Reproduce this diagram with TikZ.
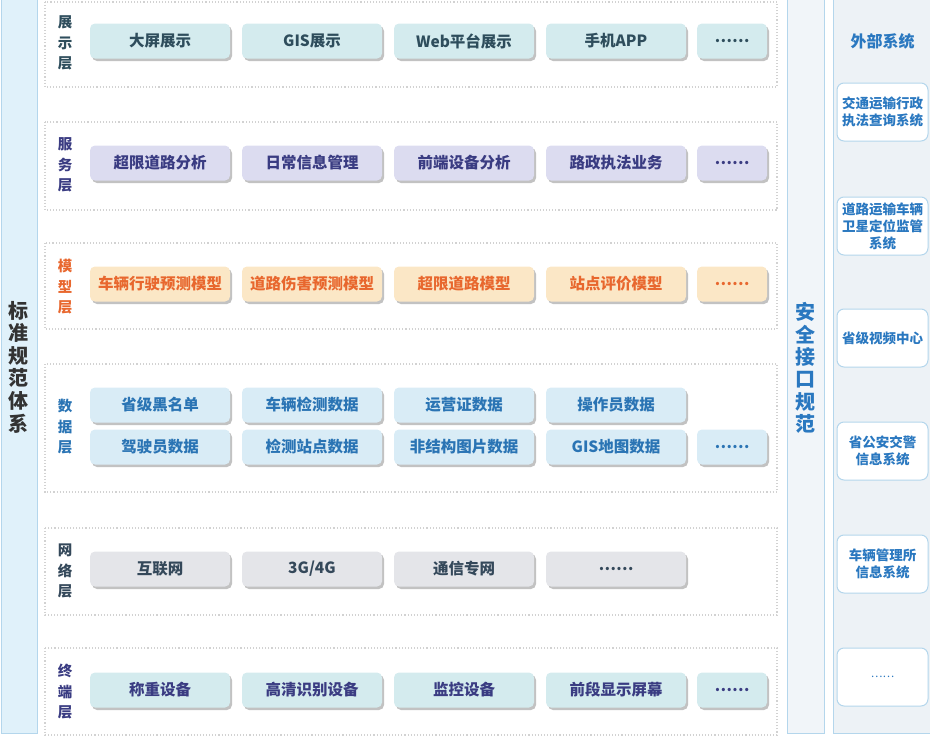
\documentclass[tikz,border=0pt]{standalone}
\usepackage{fontspec}
\setmainfont{Noto Sans CJK SC}
\usepackage{tikz}
\usetikzlibrary{shadows}
\usepackage{xcolor}
\definecolor{showfill}{HTML}{D4EBEE}
\definecolor{showtxt}{HTML}{2E4D5C}
\definecolor{servfill}{HTML}{DCDCF0}
\definecolor{servtxt}{HTML}{3A3C82}
\definecolor{modfill}{HTML}{FBE7C6}
\definecolor{modtxt}{HTML}{E8672E}
\definecolor{datfill}{HTML}{D9ECF6}
\definecolor{dattxt}{HTML}{2A74B4}
\definecolor{netfill}{HTML}{E4E5E9}
\definecolor{nettxt}{HTML}{34485A}
\definecolor{stdfill}{HTML}{E0F1FA}
\definecolor{colline}{HTML}{B4D6EC}
\definecolor{secfill}{HTML}{F1F5F9}
\definecolor{extfill}{HTML}{EDF2F6}
\definecolor{extblue}{HTML}{2A78C0}
\tikzset{
  lyr/.style={draw=gray!35, dotted, line width=1.1pt},
  itm/.style={rounded corners=5pt, minimum width=140pt, minimum height=35pt, inner sep=0pt,
    font=\bfseries\fontsize{15.5}{17}\selectfont,
    drop shadow={shadow xshift=2pt, shadow yshift=-2.5pt, fill=black!40, opacity=.6}},
  more/.style={itm, minimum width=70pt},
  vlbl/.style={align=center, inner sep=0pt, font=\bfseries\fontsize{14.5}{20.5}\selectfont},
  col/.style={draw=colline, line width=1pt},
  ext/.style={draw=colline, line width=1pt, fill=white, rounded corners=7pt, minimum width=91pt,
    minimum height=58pt, align=center, inner sep=1pt, text=extblue,
    font=\bfseries\fontsize{13.5}{17}\selectfont},
}

\begin{document}
\begin{tikzpicture}[x=1pt, y=-1pt]
  \useasboundingbox (0,0) rectangle (930,739);
  % side columns
  \draw[col, fill=stdfill] (1,-5) rectangle (37,733);
  \draw[col, fill=secfill] (787,-5) rectangle (824,733);
  \draw[col, fill=extfill] (833,-5) rectangle (940,733);
  \node[vlbl, font=\bfseries\fontsize{20}{22.6}\selectfont, text=black!80] (std) at (19,367) {标\\准\\规\\范\\体\\系};
  \node[vlbl, font=\bfseries\fontsize{20}{22.4}\selectfont, text=extblue] (sec) at (805.5,368) {安\\全\\接\\口\\规\\范};
  \node[text=extblue, font=\bfseries\fontsize{16}{18}\selectfont] (exttitle) at (882.5,41) {外部系统};

  % layers
  \draw[lyr] (45,2) rectangle (777,87);
  \draw[lyr] (45,122) rectangle (777,210);
  \draw[lyr] (45,243) rectangle (777,329);
  \draw[lyr] (45,364) rectangle (777,492);
  \draw[lyr] (45,528) rectangle (777,615);
  \draw[lyr] (45,648) rectangle (777,735);

  \node[vlbl, text=showtxt] (lshow) at (65,43) {展\\示\\层};
  \node[vlbl, text=servtxt] (lserv) at (65,165) {服\\务\\层};
  \node[vlbl, text=modtxt] (lmod) at (65,287) {模\\型\\层};
  \node[vlbl, text=dattxt] (ldat) at (65,427) {数\\据\\层};
  \node[vlbl, text=nettxt] (lnet) at (65,571) {网\\络\\层};
  \node[vlbl, text=servtxt] (lterm) at (65,692) {终\\端\\层};

  % items
  \foreach \t [count=\i] in {大屏展示,GIS展示,Web平台展示,手机APP}
    \node[itm, fill=showfill, text=showtxt] (show\i) at ({160+152*(\i-1)},41) {\t};
  \node[more, fill=showfill, text=showtxt] (show5) at (732,41) {……};
  \foreach \t [count=\i] in {超限道路分析,日常信息管理,前端设备分析,路政执法业务}
    \node[itm, fill=servfill, text=servtxt] (serv\i) at ({160+152*(\i-1)},163) {\t};
  \node[more, fill=servfill, text=servtxt] (serv5) at (732,163) {……};
  \foreach \t [count=\i] in {车辆行驶预测模型,道路伤害预测模型,超限道路模型,站点评价模型}
    \node[itm, fill=modfill, text=modtxt] (mod\i) at ({160+152*(\i-1)},284) {\t};
  \node[more, fill=modfill, text=modtxt] (mod5) at (732,284) {……};
  \foreach \t [count=\i] in {省级黑名单,车辆检测数据,运营证数据,操作员数据}
    \node[itm, fill=datfill, text=dattxt] (data\i) at ({160+152*(\i-1)},405) {\t};
  \foreach \t [count=\i] in {驾驶员数据,检测站点数据,非结构图片数据,GIS地图数据}
    \node[itm, fill=datfill, text=dattxt] (datb\i) at ({160+152*(\i-1)},447) {\t};
  \node[more, fill=datfill, text=dattxt] (datb5) at (732,447) {……};
  \foreach \t [count=\i] in {互联网,3G/4G,通信专网,……}
    \node[itm, fill=netfill, text=nettxt] (net\i) at ({160+152*(\i-1)},569) {\t};
  \foreach \t [count=\i] in {称重设备,高清识别设备,监控设备,前段显示屏幕}
    \node[itm, fill=showfill, text=servtxt] (term\i) at ({160+152*(\i-1)},690) {\t};
  \node[more, fill=showfill, text=servtxt] (term5) at (732,690) {……};

  % external systems
  \node[ext] (ext1) at (882.5,112) {交通运输行政\\执法查询系统};
  \node[ext] (ext2) at (882.5,226) {道路运输车辆\\卫星定位监管\\系统};
  \node[ext] (ext3) at (882.5,338) {省级视频中心};
  \node[ext] (ext4) at (882.5,451) {省公安交警\\信息系统};
  \node[ext] (ext5) at (882.5,564) {车辆管理所\\信息系统};
  \node[ext, font=\fontsize{11}{14}\selectfont] (ext6) at (882.5,677) {……};
\end{tikzpicture}
\end{document}
